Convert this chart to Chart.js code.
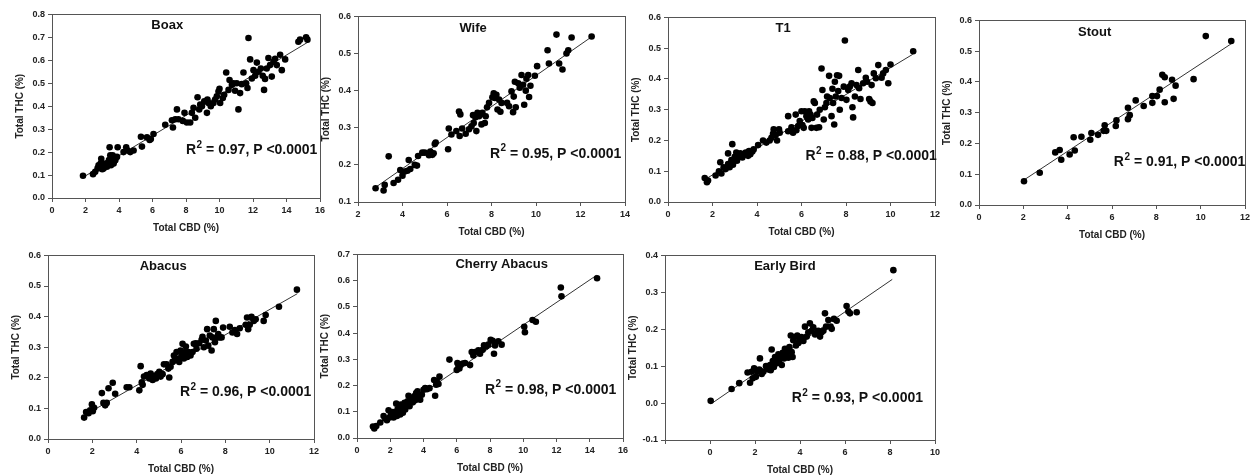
<!DOCTYPE html>
<html>
<head>
<meta charset="utf-8">
<script src="https://cdn.jsdelivr.net/npm/chart.js@4.4.1/dist/chart.umd.min.js"></script>
<style>
  html, body { margin: 0; padding: 0; background: #fff; overflow: hidden; }
  body { width: 1254px; height: 476px; position: relative; }
  .panel { position: absolute; }
</style>
</head>
<body>
<div id="wrap"></div>
<script>
// Total CBD (%) vs Total THC (%) pairs, one array per cultivar
const boax = [[1.85,0.097],[2.45,0.104],[2.58,0.114],[2.72,0.129],[2.78,0.143],[2.94,0.171],[2.88,0.136],[3.08,0.129],
  [3.18,0.15],[3.28,0.136],[3.38,0.157],[3.44,0.221],[3.48,0.186],[3.58,0.171],[3.68,0.15],[3.78,0.164],[3.88,0.179],
  [3.92,0.221],[3.52,0.143],[3.62,0.186],[3.0,0.125],[3.2,0.14],[3.4,0.165],[3.55,0.155],[3.3,0.145],[2.9,0.15],[3.7,0.16],
  [4.27,0.2],[4.43,0.221],[4.51,0.207],[4.67,0.2],[4.87,0.207],[5.31,0.267],[5.37,0.224],[5.67,0.264],[5.83,0.253],
  [5.9,0.257],[6.06,0.279],[6.76,0.319],[7.16,0.339],[7.22,0.307],[7.36,0.343],[7.46,0.386],[7.55,0.343],[7.81,0.336],
  [7.91,0.371],[8.05,0.329],[8.25,0.329],[8.35,0.371],[8.45,0.393],[8.55,0.35],[8.69,0.439],[8.79,0.386],[8.85,0.407],
  [8.95,0.4],[9.09,0.421],[9.25,0.371],[9.28,0.429],[9.34,0.414],[9.48,0.4],[9.64,0.414],[9.74,0.429],[9.84,0.443],
  [9.94,0.464],[10.0,0.476],[10.04,0.414],[10.2,0.436],[10.28,0.45],[10.4,0.547],[10.54,0.471],[10.6,0.514],[10.74,0.493],
  [10.84,0.5],[10.93,0.467],[11.03,0.5],[11.13,0.386],[11.23,0.457],[11.33,0.496],[11.43,0.547],[11.59,0.5],[11.67,0.479],
  [11.73,0.697],[11.83,0.604],[11.93,0.521],[12.03,0.557],[12.13,0.533],[12.23,0.59],[12.33,0.55],[12.47,0.564],
  [12.58,0.533],[12.66,0.471],[12.72,0.519],[12.82,0.564],[12.92,0.61],[13.02,0.579],[13.12,0.529],[13.22,0.593],
  [13.32,0.607],[13.42,0.579],[13.62,0.624],[13.72,0.557],[13.92,0.604],[14.71,0.681],[14.81,0.69],[15.17,0.7],[15.25,0.69]];

const wife = [[2.79,0.137],[3.15,0.131],[3.2,0.146],[3.38,0.223],[3.6,0.151],[3.8,0.16],[3.9,0.186],[4.0,0.171],[4.1,0.182],
  [4.22,0.184],[4.28,0.213],[4.35,0.189],[4.55,0.2],[4.65,0.198],[4.7,0.224],[4.89,0.233],[5.0,0.233],[5.19,0.226],
  [5.25,0.236],[5.34,0.227],[5.4,0.231],[5.45,0.256],[5.49,0.26],[6.05,0.242],[6.08,0.298],[6.2,0.282],[6.42,0.291],
  [6.54,0.344],[6.57,0.278],[6.6,0.336],[6.68,0.298],[6.84,0.284],[6.99,0.296],[7.1,0.304],[7.17,0.334],[7.2,0.313],
  [7.28,0.328],[7.32,0.291],[7.37,0.34],[7.44,0.331],[7.5,0.336],[7.55,0.309],[7.59,0.34],[7.7,0.313],[7.74,0.331],
  [7.8,0.355],[7.89,0.367],[8.04,0.382],[8.1,0.393],[8.15,0.38],[8.22,0.389],[8.27,0.349],[8.34,0.376],[8.4,0.343],
  [8.45,0.367],[8.7,0.367],[8.79,0.358],[8.9,0.398],[8.97,0.342],[9.0,0.384],[9.05,0.424],[9.09,0.355],[9.2,0.42],
  [9.27,0.408],[9.35,0.442],[9.42,0.416],[9.47,0.362],[9.54,0.4],[9.57,0.432],[9.65,0.442],[9.69,0.383],[9.75,0.413],
  [9.95,0.44],[10.05,0.466],[10.52,0.509],[10.58,0.473],[10.92,0.551],[11.04,0.473],[11.19,0.457],[11.37,0.5],
  [11.45,0.509],[11.6,0.543],[12.5,0.546]];

const t1 = [[1.65,0.078],[1.75,0.064],[1.8,0.07],[2.14,0.086],[2.29,0.1],[2.35,0.129],[2.4,0.093],[2.5,0.113],[2.59,0.107],
  [2.7,0.123],[2.7,0.158],[2.77,0.113],[2.85,0.136],[2.89,0.188],[2.92,0.121],[3.0,0.147],[3.07,0.161],[3.1,0.134],
  [3.19,0.15],[3.25,0.158],[3.34,0.145],[3.4,0.153],[3.49,0.161],[3.6,0.15],[3.64,0.166],[3.7,0.155],[3.79,0.164],
  [3.85,0.171],[4.05,0.185],[4.27,0.2],[4.42,0.193],[4.57,0.2],[4.65,0.209],[4.72,0.222],[4.75,0.236],[4.84,0.218],
  [4.9,0.2],[4.99,0.236],[5.02,0.225],[5.4,0.279],[5.4,0.23],[5.55,0.243],[5.62,0.225],[5.74,0.284],[5.77,0.233],
  [5.85,0.247],[5.92,0.263],[6.0,0.295],[6.04,0.25],[6.1,0.241],[6.15,0.295],[6.22,0.279],[6.3,0.268],[6.34,0.295],
  [6.4,0.284],[6.45,0.241],[6.49,0.273],[6.55,0.327],[6.6,0.322],[6.67,0.241],[6.7,0.284],[6.79,0.243],[6.82,0.3],
  [6.9,0.434],[6.94,0.364],[7.0,0.268],[7.05,0.308],[7.12,0.322],[7.15,0.343],[7.24,0.41],[7.27,0.338],[7.35,0.279],
  [7.39,0.368],[7.42,0.322],[7.47,0.252],[7.5,0.391],[7.54,0.343],[7.6,0.412],[7.65,0.361],[7.69,0.41],[7.72,0.3],
  [7.8,0.338],[7.9,0.375],[7.95,0.525],[8.02,0.332],[8.1,0.364],[8.17,0.375],[8.25,0.386],[8.29,0.308],[8.32,0.275],
  [8.4,0.343],[8.47,0.38],[8.55,0.429],[8.59,0.37],[8.65,0.335],[8.77,0.386],[8.89,0.404],[8.95,0.391],[9.04,0.335],
  [9.1,0.327],[9.15,0.38],[9.19,0.322],[9.25,0.418],[9.34,0.402],[9.45,0.445],[9.6,0.404],[9.67,0.418],[9.79,0.429],
  [9.9,0.386],[10.0,0.447],[11.02,0.49]];

const stout = [[2.03,0.077],[2.74,0.105],[3.44,0.171],[3.64,0.179],[3.71,0.147],[4.09,0.164],[4.27,0.22],[4.32,0.177],
  [4.62,0.222],[5.02,0.212],[5.07,0.234],[5.37,0.228],[5.62,0.241],[5.67,0.259],[5.74,0.241],[6.17,0.257],[6.2,0.275],
  [6.72,0.316],[6.72,0.279],[6.8,0.292],[7.07,0.34],[7.43,0.322],[7.82,0.354],[7.82,0.332],[8.03,0.354],[8.15,0.375],
  [8.27,0.423],[8.38,0.415],[8.38,0.334],[8.71,0.407],[8.78,0.345],[8.87,0.388],[9.68,0.409],[10.23,0.549],[11.38,0.533]];

const abacus = [[1.63,0.07],[1.72,0.088],[1.83,0.084],[1.9,0.094],[1.98,0.113],[2.02,0.091],[2.08,0.102],[2.43,0.15],
  [2.5,0.118],[2.58,0.11],[2.65,0.118],[2.73,0.166],[2.92,0.184],[3.03,0.148],[3.55,0.169],[3.67,0.169],[4.12,0.159],
  [4.18,0.238],[4.23,0.185],[4.27,0.177],[4.33,0.204],[4.45,0.209],[4.57,0.198],[4.63,0.214],[4.72,0.193],[4.78,0.206],
  [4.87,0.198],[4.93,0.212],[5.02,0.22],[5.08,0.204],[5.17,0.212],[5.23,0.244],[5.35,0.244],[5.43,0.23],[5.47,0.201],
  [5.53,0.236],[5.62,0.252],[5.68,0.273],[5.73,0.259],[5.8,0.284],[5.88,0.263],[5.92,0.252],[5.98,0.289],[6.03,0.273],
  [6.07,0.311],[6.13,0.263],[6.18,0.284],[6.22,0.302],[6.28,0.268],[6.33,0.284],[6.43,0.273],[6.52,0.284],[6.58,0.311],
  [6.67,0.313],[6.7,0.295],[6.82,0.313],[6.93,0.324],[6.97,0.334],[7.03,0.3],[7.12,0.322],[7.18,0.359],[7.23,0.305],
  [7.3,0.338],[7.38,0.289],[7.42,0.332],[7.48,0.359],[7.53,0.316],[7.57,0.386],[7.63,0.332],[7.68,0.343],[7.75,0.332],
  [7.83,0.332],[7.9,0.364],[8.2,0.367],[8.32,0.348],[8.43,0.356],[8.53,0.343],[8.65,0.362],[8.92,0.373],[8.98,0.397],
  [9.03,0.359],[9.1,0.373],[9.18,0.399],[9.28,0.386],[9.37,0.391],[9.73,0.386],[9.82,0.405],[10.42,0.432],[11.23,0.488]];

const cherryAbacus = [[0.96,0.044],[1.04,0.036],[1.16,0.046],[1.4,0.059],[1.6,0.084],[1.7,0.074],[1.8,0.068],[1.9,0.106],
  [1.96,0.078],[2.04,0.09],[2.16,0.099],[2.2,0.078],[2.3,0.096],[2.36,0.131],[2.4,0.084],[2.44,0.109],[2.5,0.099],
  [2.56,0.119],[2.6,0.09],[2.64,0.128],[2.7,0.109],[2.76,0.096],[2.8,0.119],[2.86,0.134],[2.9,0.109],[2.96,0.124],
  [3.04,0.14],[3.1,0.161],[3.16,0.121],[3.24,0.146],[3.36,0.136],[3.44,0.159],[3.5,0.144],[3.56,0.171],[3.64,0.178],
  [3.7,0.159],[3.8,0.146],[3.9,0.165],[4.0,0.184],[4.1,0.19],[4.2,0.186],[4.36,0.19],[4.64,0.221],[4.7,0.161],
  [4.76,0.203],[4.8,0.215],[4.96,0.234],[4.9,0.206],[5.56,0.299],[6.0,0.259],[6.04,0.286],[6.1,0.271],[6.16,0.265],
  [6.24,0.278],[6.36,0.284],[6.5,0.286],[6.8,0.278],[6.9,0.328],[7.0,0.315],[7.1,0.328],[7.3,0.334],[7.4,0.321],
  [7.56,0.336],[7.64,0.353],[7.76,0.349],[7.9,0.356],[8.04,0.374],[8.16,0.371],[8.24,0.321],[8.3,0.353],[8.5,0.369],
  [8.7,0.356],[10.06,0.424],[10.1,0.403],[10.56,0.45],[10.76,0.443],[12.26,0.574],[12.3,0.54],[14.44,0.609]];

const earlyBird = [[0.03,0.006],[0.96,0.038],[1.3,0.054],[1.67,0.083],[1.78,0.055],[1.85,0.085],[1.9,0.067],[1.96,0.094],
  [2.04,0.071],[2.1,0.085],[2.19,0.091],[2.22,0.121],[2.3,0.079],[2.37,0.085],[2.49,0.1],[2.59,0.091],[2.67,0.103],
  [2.7,0.089],[2.74,0.145],[2.79,0.114],[2.84,0.098],[2.89,0.125],[2.93,0.107],[2.99,0.118],[3.04,0.132],[3.08,0.109],
  [3.14,0.123],[3.19,0.103],[3.23,0.136],[3.29,0.121],[3.33,0.147],[3.38,0.127],[3.44,0.138],[3.48,0.123],[3.53,0.152],
  [3.59,0.183],[3.63,0.138],[3.67,0.125],[3.7,0.17],[3.78,0.179],[3.82,0.156],[3.88,0.183],[3.93,0.163],[4.0,0.17],
  [4.07,0.179],[4.15,0.168],[4.22,0.207],[4.3,0.18],[4.37,0.192],[4.44,0.216],[4.52,0.196],[4.59,0.205],[4.67,0.186],
  [4.74,0.188],[4.81,0.196],[4.89,0.18],[4.96,0.192],[5.04,0.196],[5.11,0.243],[5.16,0.207],[5.26,0.225],[5.36,0.207],
  [5.41,0.201],[5.51,0.228],[5.63,0.223],[6.07,0.263],[6.15,0.248],[6.22,0.243],[6.52,0.246],[8.15,0.36]];

// regression line end points
const boaxFit = [[1.85,0.09],[15.3,0.68]];
const wifeFit = [[2.8,0.14],[12.5,0.545]];
const t1Fit = [[1.7,0.075],[11.0,0.48]];
const stoutFit = [[2.0,0.08],[11.4,0.525]];
const abacusFit = [[1.7,0.08],[11.25,0.475]];
const cherryFit = [[0.9,0.04],[14.4,0.62]];
const earlyBirdFit = [[0.05,-0.002],[8.1,0.335]];

// axis ranges [min, max]
const xRanges = [[0,16],[2,14],[0,12],[0,12],[0,12],[0,16],[-2,10]];
const yRanges = [[0,0.8],[0.1,0.6],[0,0.6],[0,0.6],[0,0.6],[0,0.7],[-0.1,0.4]];
const names = ["Boax","Wife","T1","Stout","Abacus","Cherry Abacus","Early Bird"];
const r2Values = ["0.97","0.95","0.88","0.91","0.96","0.98","0.93"];

const pointSets = [boax, wife, t1, stout, abacus, cherryAbacus, earlyBird];
const fitSets = [boaxFit, wifeFit, t1Fit, stoutFit, abacusFit, cherryFit, earlyBirdFit];

// layout: plot-area rectangles in page pixels and text placement (fractions of plot area)
const areas = [
  {l:52, t:12, r:320, b:198},
  {l:358, t:14, r:625, b:202},
  {l:668, t:15, r:935, b:202},
  {l:979, t:18, r:1245, b:205},
  {l:48, t:253, r:314, b:439},
  {l:357, t:252, r:623, b:438},
  {l:665, t:253, r:935, b:440},
];
const titlePos = [[0.43,0.06],[0.431,0.064],[0.431,0.059],[0.435,0.063],[0.433,0.062],[0.544,0.054],[0.444,0.059]];
const r2Pos = [[0.5,0.74],[0.494,0.74],[0.515,0.75],[0.507,0.768],[0.496,0.746],[0.481,0.737],[0.469,0.773]];

const FONT = "'Liberation Sans', Arial, sans-serif";
const Y_W = 42, X_H = 40, PAD_T = 6, PAD_R = 10;

// plot box + panel title + R2 text
const panelText = {
  id: "panelText",
  afterDraw(chart, args, o) {
    const { ctx, chartArea: a } = chart;
    const w = a.right - a.left, h = a.bottom - a.top;
    ctx.save();
    ctx.strokeStyle = "#555";
    ctx.lineWidth = 1;
    ctx.strokeRect(Math.round(a.left) + 0.5, Math.round(a.top) + 0.5, Math.round(w), Math.round(h));

    ctx.fillStyle = "#111";
    ctx.textBaseline = "middle";
    ctx.textAlign = "center";
    ctx.font = "bold 13px " + FONT;
    ctx.fillText(o.title, a.left + o.titlePos[0] * w, a.top + o.titlePos[1] * h);

    ctx.textAlign = "left";
    let x = a.left + o.r2Pos[0] * w;
    const y = a.top + o.r2Pos[1] * h;
    ctx.font = "bold 14px " + FONT;
    ctx.fillText("R", x, y);
    x += ctx.measureText("R").width + 0.5;
    ctx.font = "bold 10px " + FONT;
    ctx.fillText("2", x, y - 5);
    x += ctx.measureText("2").width;
    ctx.font = "bold 14px " + FONT;
    ctx.fillText(" = " + o.r2 + ", P <0.0001", x, y);
    ctx.restore();
  },
};

const wrap = document.getElementById("wrap");

pointSets.forEach((pts, i) => {
  const a = areas[i];
  const div = document.createElement("div");
  div.className = "panel";
  const cw = Y_W + (a.r - a.l) + PAD_R;
  const ch = PAD_T + (a.b - a.t) + X_H;
  div.style.left = (a.l - Y_W) + "px";
  div.style.top = (a.t - PAD_T) + "px";
  div.style.width = cw + "px";
  div.style.height = ch + "px";
  const canvas = document.createElement("canvas");
  canvas.width = cw;
  canvas.height = ch;
  div.appendChild(canvas);
  wrap.appendChild(div);

  const tickFont = { family: FONT, size: 9, weight: "bold" };
  const titleFont = { family: FONT, size: 10, weight: "bold" };
  const gridCfg = { drawOnChartArea: false, drawTicks: true, tickLength: 4, color: "#555" };

  new Chart(canvas, {
    type: "scatter",
    data: {
      datasets: [
        {
          data: pts.map(p => ({ x: p[0], y: p[1] })),
          backgroundColor: "#000",
          borderWidth: 0,
          pointRadius: 3.3,
        },
        {
          type: "line",
          data: fitSets[i].map(p => ({ x: p[0], y: p[1] })),
          borderColor: "#333",
          borderWidth: 1,
          pointRadius: 0,
          fill: false,
        },
      ],
    },
    options: {
      responsive: false,
      animation: false,
      events: [],
      layout: { padding: { top: PAD_T, right: PAD_R, left: 0, bottom: 0 } },
      plugins: {
        legend: { display: false },
        tooltip: { enabled: false },
        panelText: { title: names[i], r2: r2Values[i], titlePos: titlePos[i], r2Pos: r2Pos[i] },
      },
      scales: {
        x: {
          type: "linear",
          min: xRanges[i][0],
          max: xRanges[i][1],
          grid: gridCfg,
          border: { display: false },
          ticks: {
            stepSize: 2,
            padding: 3,
            color: "#222",
            font: tickFont,
            maxRotation: 0,
            callback: v => (v < 0 ? "" : String(v)),
          },
          title: { display: true, text: "Total CBD (%)", color: "#222", font: titleFont, padding: { top: 2, bottom: 4 } },
          afterFit: s => { s.height = X_H; },
        },
        y: {
          type: "linear",
          min: yRanges[i][0],
          max: yRanges[i][1],
          grid: gridCfg,
          border: { display: false },
          ticks: {
            stepSize: 0.1,
            padding: 3,
            color: "#222",
            font: tickFont,
            callback: v => v.toFixed(1),
          },
          title: { display: true, text: "Total THC (%)", color: "#222", font: titleFont, padding: { top: 4, bottom: 2 } },
          afterFit: s => { s.width = Y_W; },
        },
      },
    },
    plugins: [panelText],
  });
});
</script>
</body>
</html>
